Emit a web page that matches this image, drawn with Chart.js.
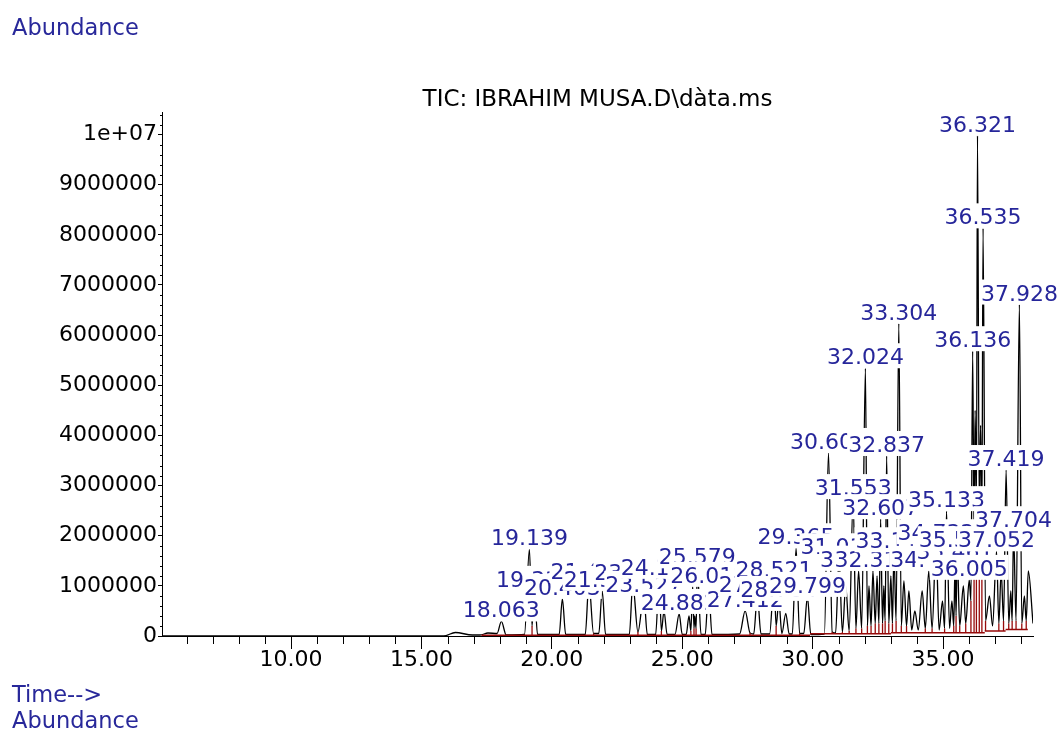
<!DOCTYPE html>
<html><head><meta charset="utf-8">
<script src="https://cdn.jsdelivr.net/npm/chart.js@4.4.1/dist/chart.umd.min.js"></script>
<style>
html,body{margin:0;padding:0;background:#fff;}
#wrap{position:relative;width:1058px;height:729px;overflow:hidden;background:#fff;}
#c{position:absolute;left:0;top:0;width:1058px;height:729px;}
.lbl{position:absolute;font-family:'DejaVu Sans',sans-serif;font-size:22.5px;line-height:26px;color:#28289a;white-space:nowrap;}
</style></head><body>
<div id="wrap">
<canvas id="c" width="1058" height="729"></canvas>
<div class="lbl" style="left:12px;top:14px">Abundance</div>
<div class="lbl" style="left:12px;top:681px">Time--&gt;</div>
<div class="lbl" style="left:12px;top:707px">Abundance</div>
</div>
<script>
const chartTitle = 'TIC: IBRAHIM MUSA.D\\dàta.ms';

const xTickValues = [10, 15, 20, 25, 30, 35];
const xTickLabels = ['10.00', '15.00', '20.00', '25.00', '30.00', '35.00'];
const yTickValues = [0, 1000000, 2000000, 3000000, 4000000, 5000000, 6000000, 7000000, 8000000, 9000000, 10000000];
const yTickLabels = ['0', '1000000', '2000000', '3000000', '4000000', '5000000', '6000000', '7000000', '8000000', '9000000', '1e+07'];

// peak apexes (retention time in min, abundance)
const peakTimes = [
  16.30, 17.55, 18.063, 19.139, 19.331, 20.403, 21.421, 21.930, 23.104, 23.527,
  24.113, 24.300, 24.882, 25.260, 25.400, 25.480, 25.579, 26.012, 27.412, 27.880,
  28.521, 28.704, 28.970, 29.365, 29.799, 30.608, 31.012, 31.270, 31.553, 31.762,
  32.024, 32.160, 32.312, 32.470, 32.607, 32.730, 32.837, 33.000, 33.117, 33.304,
  33.500, 33.690, 33.920, 34.200, 34.453, 34.732, 34.980, 35.133, 35.340, 35.461,
  35.541, 35.780, 36.005, 36.136, 36.230, 36.321, 36.440, 36.535, 36.780, 37.052,
  37.230, 37.419, 37.600, 37.704, 37.928, 38.120, 38.270
];
const peakHeights = [
  70000, 60000, 290000, 1730000, 900000, 740000, 1060000, 900000, 1040000, 800000,
  1140000, 500000, 440000, 400000, 1000000, 400000, 1350000, 980000, 500000, 800000,
  1100000, 700000, 450000, 1750000, 780000, 3650000, 1550000, 1000000, 2730000, 1300000,
  5340000, 1000000, 1300000, 1200000, 2330000, 1000000, 3590000, 1200000, 1670000, 6230000,
  1100000, 900000, 500000, 900000, 1300000, 1830000, 700000, 2490000, 700000, 1450000,
  1690000, 1000000, 1120000, 5680000, 4500000, 9980000, 4200000, 8130000, 800000, 1690000,
  1300000, 3310000, 900000, 2090000, 6610000, 800000, 1300000
];

// valley / base points of the trace
const valleyTimes = [
  5.05, 15.85, 16.95, 17.25, 17.90, 18.25, 18.95, 19.24, 19.45, 20.28,
  20.53, 21.28, 21.60, 21.80, 22.06, 22.97, 23.30, 23.66, 23.98, 24.20,
  24.42, 24.72, 25.00, 25.15, 25.33, 25.45, 25.53, 25.72, 25.88, 26.14,
  27.20, 27.60, 27.74, 28.02, 28.35, 28.60, 28.82, 29.10, 29.22, 29.50,
  29.66, 29.93, 30.45, 30.75, 30.88, 31.14, 31.40, 31.66, 31.88, 32.10,
  32.24, 32.40, 32.54, 32.68, 32.78, 32.92, 33.06, 33.20, 33.40, 33.60,
  33.80, 34.05, 34.32, 34.58, 34.85, 35.06, 35.25, 35.41, 35.50, 35.64,
  35.87, 36.07, 36.19, 36.28, 36.39, 36.49, 36.63, 36.90, 37.14, 37.32,
  37.52, 37.65, 37.80, 38.02, 38.19, 38.45
];
const valleyLevels = [
  0, 0, 20000, 20000, 50000, 20000, 30000, 200000, 30000, 30000,
  30000, 30000, 50000, 50000, 30000, 30000, 80000, 30000, 30000, 100000,
  30000, 30000, 30000, 30000, 100000, 150000, 150000, 30000, 30000, 30000,
  40000, 60000, 40000, 40000, 40000, 200000, 50000, 40000, 40000, 50000,
  50000, 30000, 40000, 80000, 60000, 80000, 100000, 150000, 150000, 200000,
  200000, 250000, 250000, 250000, 300000, 250000, 250000, 300000, 200000, 200000,
  120000, 120000, 150000, 150000, 120000, 150000, 150000, 200000, 400000, 200000,
  250000, 700000, 2000000, 2500000, 2500000, 2200000, 300000, 200000, 250000, 300000,
  250000, 300000, 300000, 250000, 300000, 250000
];

// peaks that carry a retention-time label (drawn in time order)
const labelTimes = [
  18.063, 19.139, 19.331, 20.403, 21.421, 21.930, 23.104, 23.527, 24.113, 24.882,
  25.579, 26.012, 27.412, 27.880, 28.521, 28.704, 29.365, 29.799, 30.608, 31.012,
  31.553, 31.762, 32.024, 32.312, 32.607, 32.837, 33.117, 33.304, 34.453, 34.732,
  35.133, 35.461, 35.541, 36.005, 36.136, 36.321, 36.535, 37.052, 37.419, 37.704,
  37.928
];

// integration baseline segments (red)
const baseStarts = [17.30, 29.90, 33.00, 36.60, 37.40];
const baseEnds   = [29.90, 33.00, 36.60, 37.40, 38.25];
const baseLevels = [15000, 45000, 65000, 100000, 130000];

// red drop lines at unresolved valleys
const dropTimes = [
  19.24, 21.60, 23.30, 24.20, 25.33, 25.45, 25.53, 27.60, 28.60, 29.50,
  30.75, 31.14, 31.40, 31.66, 31.88, 32.10, 32.24, 32.40, 32.54, 32.68,
  32.78, 32.92, 33.06, 33.20, 33.40, 33.60, 34.32, 34.58, 35.06, 35.41,
  35.50, 35.64, 35.87, 36.07, 36.19, 36.28, 36.39, 36.49, 36.63, 37.14,
  37.32, 37.52, 37.65, 37.80, 38.02, 38.19
];

const BLUE = '#26269a';
const RED = 'rgb(150,10,10)';
const FONT = "'DejaVu Sans', sans-serif";

const tracePts = peakTimes.map((t, i) => ({x: t, y: peakHeights[i]}))
  .concat(valleyTimes.map((t, i) => ({x: t, y: valleyLevels[i]})))
  .sort((a, b) => a.x - b.x);

const basePts = [];
baseStarts.forEach((s, i) => {
  basePts.push({x: s, y: baseLevels[i]}, {x: baseEnds[i], y: baseLevels[i]}, {x: baseEnds[i], y: null});
});
function baseAt(t) {
  for (let i = 0; i < baseStarts.length; i++) if (t >= baseStarts[i] && t <= baseEnds[i]) return baseLevels[i];
  return 0;
}
const dropPts = [];
dropTimes.forEach(t => {
  const k = valleyTimes.indexOf(t);
  if (k < 0) return;
  dropPts.push({x: t, y: baseAt(t)}, {x: t, y: valleyLevels[k]}, {x: t, y: null});
});

const decorPlugin = {
  id: 'decor',
  afterDatasetsDraw(chart) {
    const {ctx, scales: {x, y}} = chart;
    ctx.save();
    ctx.font = '22px ' + FONT;
    ctx.textAlign = 'center';
    ctx.textBaseline = 'alphabetic';
    labelTimes.forEach(t => {
      const i = peakTimes.indexOf(t);
      if (i < 0) return;
      const px = x.getPixelForValue(t);
      const py = y.getPixelForValue(peakHeights[i]);
      const txt = t.toFixed(3);
      const w = ctx.measureText(txt).width;
      ctx.fillStyle = '#fff';
      ctx.fillRect(px - w / 2 - 1, py - 25, w + 2, 25);
      ctx.fillStyle = BLUE;
      ctx.fillText(txt, px, py - 4);
    });
    ctx.restore();
  },
  afterDraw(chart) {
    const {ctx, chartArea: ca, scales: {x, y}} = chart;
    ctx.save();
    ctx.strokeStyle = '#000';
    ctx.lineWidth = 1;
    ctx.beginPath();
    for (let t = Math.ceil(x.min); t <= x.max; t += 1) {
      if (xTickValues.includes(t)) continue;
      const px = Math.round(x.getPixelForValue(t)) + 0.5;
      ctx.moveTo(px, ca.bottom);
      ctx.lineTo(px, ca.bottom + 8);
    }
    for (let v = 0; v <= y.max; v += 200000) {
      if (v % 1000000 === 0) continue;
      const py = Math.round(y.getPixelForValue(v)) + 0.5;
      ctx.moveTo(ca.left - 2, py);
      ctx.lineTo(ca.left, py);
    }
    ctx.stroke();
    ctx.fillStyle = '#000';
    ctx.font = '23px ' + FONT;
    ctx.textAlign = 'center';
    ctx.textBaseline = 'alphabetic';
    ctx.fillText(chartTitle, (ca.left + ca.right) / 2, 106);
    ctx.restore();
  }
};

Chart.defaults.font.family = FONT;
Chart.defaults.font.size = 22;
Chart.defaults.color = '#000';

new Chart(document.getElementById('c'), {
  type: 'line',
  data: {
    datasets: [
      {label: 'baseline', data: basePts, borderColor: RED, borderWidth: 1.3, pointRadius: 0, spanGaps: false, tension: 0},
      {label: 'drops', data: dropPts, borderColor: RED, borderWidth: 1.3, pointRadius: 0, spanGaps: false, tension: 0},
      {label: 'TIC', data: tracePts, borderColor: '#000', borderWidth: 1.3, pointRadius: 0, cubicInterpolationMode: 'monotone'}
    ]
  },
  options: {
    responsive: false,
    maintainAspectRatio: false,
    animation: false,
    events: [],
    layout: {padding: {top: 112, right: 25, bottom: 0, left: 0}},
    plugins: {legend: {display: false}, tooltip: {enabled: false}, title: {display: false}},
    scales: {
      x: {
        type: 'linear', min: 5.05, max: 38.45,
        afterFit(s) { s.height = 93; },
        afterBuildTicks(s) { s.ticks = xTickValues.map(v => ({value: v})); },
        ticks: {autoSkip: false, maxRotation: 0, padding: -2, color: '#000', font: {size: 22},
          callback: (v, i) => xTickLabels[i]},
        grid: {drawOnChartArea: false, drawTicks: true, tickLength: 13, color: '#000'},
        border: {display: true, color: '#000', width: 1}
      },
      y: {
        type: 'linear', min: 0, max: 10450000,
        afterFit(s) { s.width = 162; },
        afterBuildTicks(s) { s.ticks = yTickValues.map(v => ({value: v})); },
        ticks: {autoSkip: false, padding: 1, color: '#000', font: {size: 22},
          callback: (v, i) => yTickLabels[i]},
        grid: {drawOnChartArea: false, drawTicks: true, tickLength: 4, color: '#000'},
        border: {display: true, color: '#000', width: 1}
      }
    }
  },
  plugins: [decorPlugin]
});
</script>
</body></html>
